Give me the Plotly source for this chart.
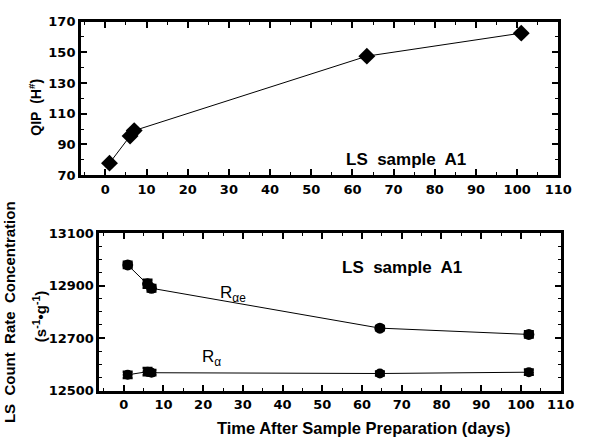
import plotly.graph_objects as go

# Data
qip_days = [1, 6, 7, 63.5, 101]
qip = [77.8, 95.5, 99, 147.5, 162.5]
ls_days = [1, 6, 7, 64.5, 102]
r_ae = [12979, 12907, 12890, 12738, 12714]
r_ae_err = [12, 15, 12, 8, 12]
r_a = [12560, 12572, 12568, 12565, 12570]
r_a_err = [12, 14, 10, 8, 10]

F = "Liberation Sans"
TF = "DejaVu Sans"
fig = go.Figure()
fig.add_trace(go.Scatter(x=qip_days, y=qip, mode="lines+markers", xaxis="x", yaxis="y",
                         line=dict(color="black", width=1),
                         marker=dict(symbol="diamond", size=13, color="black")))
fig.add_trace(go.Scatter(x=ls_days, y=r_ae, mode="lines+markers", xaxis="x2", yaxis="y2",
                         line=dict(color="black", width=1),
                         error_y=dict(type="data", array=r_ae_err, color="black", thickness=2.5, width=5),
                         marker=dict(symbol="circle", size=11, color="black")))
fig.add_trace(go.Scatter(x=ls_days, y=r_a, mode="lines+markers", xaxis="x2", yaxis="y2",
                         line=dict(color="black", width=1),
                         error_y=dict(type="data", array=r_a_err, color="black", thickness=2.5, width=5),
                         marker=dict(symbol="circle", size=10, color="black")))

def ax(**kw):
    d = dict(showline=True, linecolor="black", linewidth=3, mirror="allticks",
             ticks="inside", ticklen=6, tickwidth=1.5, tickcolor="black",
             showgrid=False, zeroline=False, tickmode="linear",
             tickfont=dict(family=TF, size=13, color="black", weight=700))
    d.update(kw)
    return d

minor_x = dict(ticks="inside", dtick=5, ticklen=3, tickcolor="black", tickwidth=1.2)
fig.update_layout(
    width=589, height=445, margin=dict(l=0, r=0, t=0, b=0),
    paper_bgcolor="white", plot_bgcolor="white", showlegend=False,
    xaxis=ax(domain=[0.141, 0.971], anchor="y", range=[-5.9, 110], tick0=0, dtick=10, minor=minor_x),
    yaxis=ax(domain=[0.609, 0.966], anchor="x", range=[70, 170], tick0=70, dtick=20,
             minor=dict(ticks="inside", dtick=10, ticklen=3, tickcolor="black", tickwidth=1.2)),
    xaxis2=ax(domain=[0.173, 0.975], anchor="y2", range=[-6.1, 110], tick0=0, dtick=10, minor=minor_x),
    yaxis2=ax(domain=[0.108, 0.474], anchor="x2", range=[12500, 13100], tick0=12500, dtick=200,
              tickformat="d",
              minor=dict(ticks="inside", dtick=50, ticklen=3, tickcolor="black", tickwidth=1.2)),
)

bold = dict(family=F, color="black", weight="bold")
fig.add_annotation(x=73, y=80.5, xref="x", yref="y", text="LS&nbsp; sample&nbsp; A1", showarrow=False,
                   font=dict(size=17, **bold))
fig.add_annotation(x=70, y=12970, xref="x2", yref="y2", text="LS&nbsp; sample&nbsp; A1", showarrow=False,
                   font=dict(size=17, **bold))
fig.add_annotation(x=27.6, y=12868, xref="x2", yref="y2", text="R<sub>αe</sub>", showarrow=False,
                   font=dict(size=17, family=F, color="black"))
fig.add_annotation(x=22, y=12626, xref="x2", yref="y2", text="R<sub>α</sub>", showarrow=False,
                   font=dict(size=17, family=F, color="black"))
pa = dict(xref="paper", yref="paper", xanchor="center", yanchor="middle", showarrow=False)
fig.add_annotation(x=0.061, y=0.766, text="QIP&nbsp; (H<sup>#</sup>)",
                   textangle=-90, font=dict(size=14, **bold), **pa)
fig.add_annotation(x=0.017, y=0.29, text="LS&nbsp; Count&nbsp; Rate&nbsp; Concentration",
                   textangle=-90, font=dict(size=15, **bold), **pa)
fig.add_annotation(x=0.068, y=0.279, text="(s<sup>-1</sup>•g<sup>-1</sup>)",
                   textangle=-90, font=dict(size=15, **bold), **pa)
fig.add_annotation(x=0.632, y=0.022, text="Time After Sample Preparation (days)",
                   font=dict(size=16.5, **bold), **pa)

fig.write_html("out.html")
